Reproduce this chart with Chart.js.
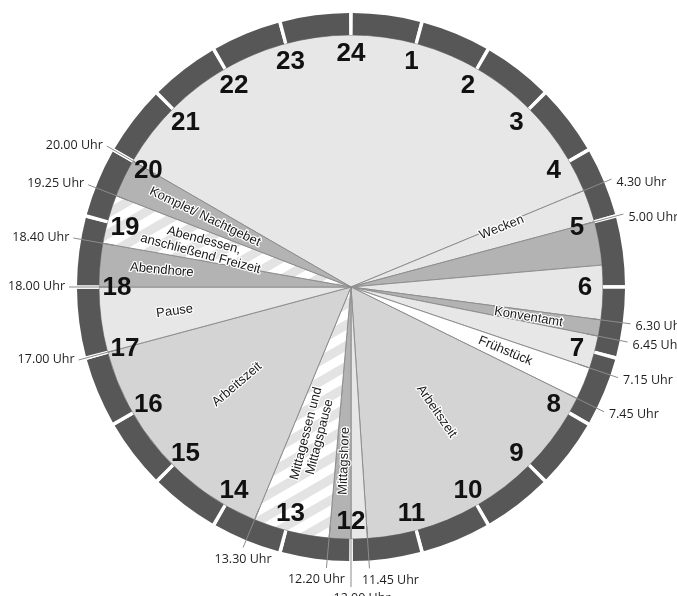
<!DOCTYPE html>
<html>
<head>
<meta charset="utf-8">
<script src="https://cdn.jsdelivr.net/npm/chart.js@4.4.0/dist/chart.umd.min.js"></script>
<style>
    html, body { margin: 0; padding: 0; background: #fff; }
    #wrap { width: 677px; height: 596px; }
</style>
</head>
<body>
<div id="wrap"><canvas id="clockChart"></canvas></div>
<script>
// hour ring, clockwise from the top
const hourLabels = ['24', '1', '2', '3', '4', '5', '6', '7', '8', '9', '10', '11',
                    '12', '13', '14', '15', '16', '17', '18', '19', '20', '21', '22', '23'];

// day schedule, starting with the night at 20.00: start of each block in decimal hours
const blockStarts = [20, 4.5, 5, 5.667, 6.5, 6.75, 7.25, 7.75, 11.75, 12, 12.333, 13.5, 17, 18, 18.667, 19.417];
const blockNames = ['', 'Wecken', '', '', 'Konventamt', '', 'Frühstück', 'Arbeitszeit', '', 'Mittagshore',
                    'Mittagessen und|Mittagspause', 'Arbeitszeit', 'Pause', 'Abendhore',
                    'Abendessen,|anschließend Freizeit', 'Komplet/ Nachtgebet'];
const blockKinds = ['rest', 'rest', 'prayer', 'rest', 'prayer', 'rest', 'meal', 'work', 'rest', 'prayer',
                    'free', 'work', 'rest', 'prayer', 'free', 'prayer'];

// time marks with leader lines
const markTimes = [20, 19.417, 18.667, 18, 17, 13.5, 12.333, 12, 11.75, 4.5, 5, 6.5, 6.75, 7.25, 7.75];
const markTexts = ['20.00 Uhr', '19.25 Uhr', '18.40 Uhr', '18.00 Uhr', '17.00 Uhr', '13.30 Uhr', '12.20 Uhr',
                   '12.00 Uhr', '11.45 Uhr', '4.30 Uhr', '5.00 Uhr', '6.30 Uhr', '6.45 Uhr', '7.15 Uhr', '7.45 Uhr'];

// layout only: where the block names sit (hour, radius) and how time texts hang off their lines
const blockLabelPos = {
    1: [4.56, 162], 4: [6.64, 180], 6: [7.5, 167], 7: [9.7, 151], 9: [12.15, 174],
    10: [12.96, 153], 11: [15.3, 150], 12: [17.48, 178], 13: [18.34, 190], 14: [19.0, 154], 15: [19.71, 162]
};
const markPlace = {
    '13.30 Uhr': ['center', 0, 12], '12.20 Uhr': ['center', -10, 12],
    '12.00 Uhr': ['center', 11, 11], '11.45 Uhr': ['center', 21, 12]
};

const kindColors = { rest: '#e7e7e7', prayer: '#b3b3b3', work: '#d4d4d4', meal: '#ffffff' };

// diagonal stripes for the meal / free time blocks
function stripePattern() {
    const tile = document.createElement('canvas');
    tile.width = 18;
    tile.height = 18;
    const t = tile.getContext('2d');
    t.fillStyle = '#ffffff';
    t.fillRect(0, 0, 18, 18);
    t.fillStyle = '#e3e3e3';
    t.fillRect(0, 0, 18, 9);
    const p = document.createElement('canvas').getContext('2d').createPattern(tile, 'repeat');
    p.setTransform(new DOMMatrix().rotateSelf(-30));
    return p;
}
const stripes = stripePattern();

// block lengths in hours (wrapping past midnight)
const blockDurations = blockStarts.map((s, i) => {
    const next = i + 1 < blockStarts.length ? blockStarts[i + 1] : blockStarts[0];
    return ((next - s) % 24 + 24) % 24;
});
const blockColors = blockKinds.map(k => k === 'free' ? stripes : kindColors[k]);

// outer ring: one dark piece per hour with a small white gap centred on each hour mark
const gapDeg = 0.75;
const ringData = [];
const ringColors = [];
hourLabels.forEach(() => {
    ringData.push(gapDeg / 2, 15 - gapDeg, gapDeg / 2);
    ringColors.push('#ffffff', '#575757', '#ffffff');
});

const clockText = {
    id: 'clockText',
    afterDatasetsDraw(chart) {
        const ctx = chart.ctx;
        const arc = chart.getDatasetMeta(1).data[0];
        const cx = arc.x, cy = arc.y;
        const pt = (h, r) => {
            const a = h / 24 * 2 * Math.PI - Math.PI / 2;
            return [cx + r * Math.cos(a), cy + r * Math.sin(a)];
        };
        ctx.save();

        // leader lines through the ring
        ctx.strokeStyle = '#8b8b8b';
        ctx.lineWidth = 1;
        markTimes.forEach((t, i) => {
            const reach = markTexts[i] === '12.00 Uhr' ? 300 : 282;
            const [x0, y0] = pt(t, 240);
            const [x1, y1] = pt(t, reach);
            ctx.beginPath();
            ctx.moveTo(x0, y0);
            ctx.lineTo(x1, y1);
            ctx.stroke();
        });

        // time texts
        ctx.fillStyle = '#1e1e1e';
        ctx.font = '12.5px "Open Sans"';
        ctx.textBaseline = 'middle';
        markTimes.forEach((t, i) => {
            const txt = markTexts[i];
            const reach = txt === '12.00 Uhr' ? 300 : 282;
            const [x, y] = pt(t, reach);
            if (markPlace[txt]) {
                const [al, dx, dy] = markPlace[txt];
                ctx.textAlign = al;
                ctx.fillText(txt, x + dx, y + dy);
            } else if (t > 12) {
                ctx.textAlign = 'right';
                ctx.fillText(txt, x - 4, y - 1);
            } else {
                ctx.textAlign = 'left';
                ctx.fillText(txt, x + 5, y + 3);
            }
        });

        // block names, written along the radius
        ctx.font = '13px "Liberation Sans", Arial, sans-serif';
        ctx.textAlign = 'center';
        ctx.lineJoin = 'round';
        Object.keys(blockLabelPos).forEach(k => {
            const [h, r] = blockLabelPos[k];
            const [x, y] = pt(h, r);
            const deg = h / 24 * 360;
            const rot = (deg < 180 ? deg - 90 : deg - 270) * Math.PI / 180;
            const lines = blockNames[k].split('|');
            ctx.save();
            ctx.translate(x, y);
            ctx.rotate(rot);
            lines.forEach((line, j) => {
                const ly = (j - (lines.length - 1) / 2) * 14;
                ctx.strokeStyle = '#ffffff';
                ctx.lineWidth = 2.5;
                ctx.strokeText(line, 0, ly);
                ctx.fillStyle = '#1a1a1a';
                ctx.fillText(line, 0, ly);
            });
            ctx.restore();
        });

        // hour numbers
        ctx.font = 'bold 26px "Liberation Sans", Arial, sans-serif';
        ctx.fillStyle = '#111111';
        ctx.textAlign = 'center';
        hourLabels.forEach((lab, i) => {
            const [x, y] = pt(i, 234);
            ctx.fillText(lab, x, y + 1);
        });
        ctx.restore();
    }
};

new Chart(document.getElementById('clockChart'), {
    type: 'doughnut',
    data: {
        labels: blockNames,
        datasets: [{
            data: ringData,
            backgroundColor: ringColors,
            borderWidth: 0,
            weight: 22
        }, {
            data: blockDurations,
            backgroundColor: blockColors,
            borderColor: '#8e8e8e',
            borderWidth: 1,
            weight: 252
        }]
    },
    options: {
        responsive: true,
        maintainAspectRatio: false,
        animation: false,
        events: [],
        cutout: 0,
        radius: 274,
        rotation: blockStarts[0] / 24 * 360,
        layout: { padding: { left: 25, right: 0, top: 0, bottom: 22 } },
        plugins: {
            legend: { display: false },
            tooltip: { enabled: false }
        }
    },
    plugins: [clockText]
});
</script>
</body>
</html>
